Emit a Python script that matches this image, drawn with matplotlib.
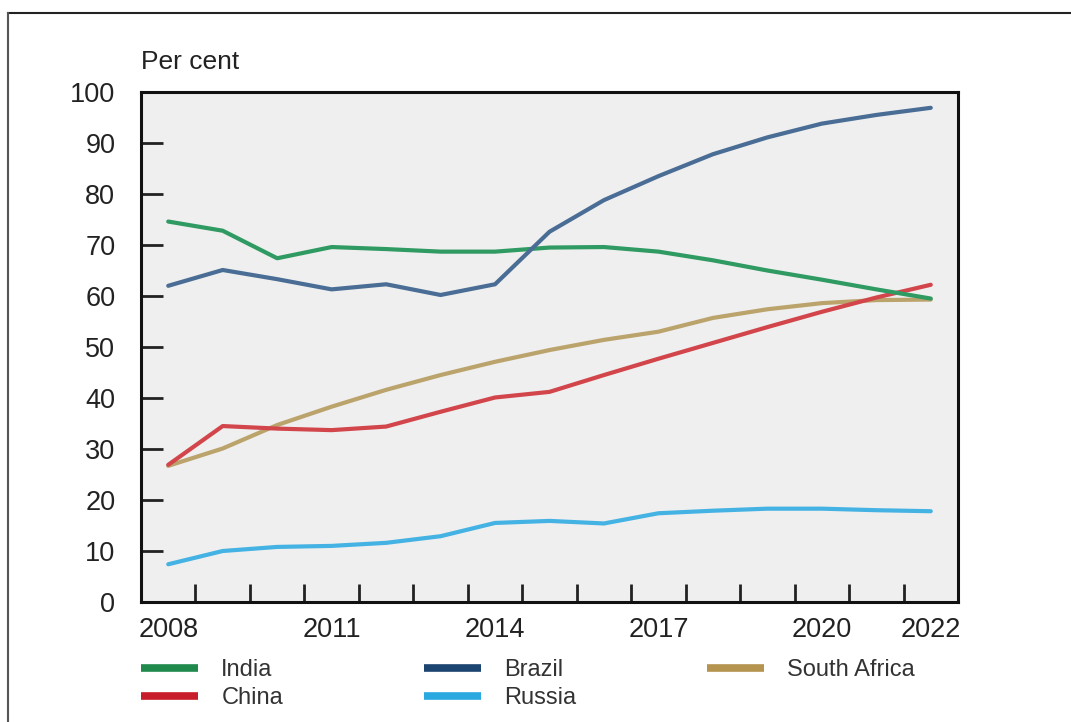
import numpy as np
import matplotlib.pyplot as plt
from matplotlib.lines import Line2D

plt.rcParams['font.family'] = ['Liberation Sans', 'DejaVu Sans']

# data
years = np.arange(2008, 2023)
india = [74.6, 72.8, 67.4, 69.6, 69.2, 68.7, 68.7, 69.5, 69.6, 68.7, 67.0, 65.0, 63.2, 61.3, 59.5]
brazil = [62.0, 65.1, 63.3, 61.3, 62.3, 60.2, 62.3, 72.6, 78.8, 83.5, 87.8, 91.1, 93.8, 95.5, 96.9]
china = [26.9, 34.5, 34.0, 33.7, 34.4, 37.3, 40.1, 41.2, 44.5, 47.7, 50.8, 53.9, 56.9, 59.7, 62.2]
south_africa = [26.7, 30.1, 34.7, 38.3, 41.6, 44.5, 47.1, 49.4, 51.4, 53.0, 55.7, 57.4, 58.6, 59.2, 59.3]
russia = [7.4, 10.0, 10.8, 11.0, 11.6, 12.9, 15.5, 15.9, 15.4, 17.4, 17.9, 18.3, 18.3, 18.0, 17.8]
label_years = [2008, 2011, 2014, 2017, 2020, 2022]

colors = {
    'India': '#2f9a62',
    'Brazil': '#4a6d96',
    'China': '#d2464b',
    'Russia': '#45b2e4',
    'South Africa': '#bba36c',
}
legend_colors = {
    'India': '#1f8a4c',
    'Brazil': '#1c4470',
    'China': '#c81e2c',
    'Russia': '#2aa8e0',
    'South Africa': '#b4944e',
}

fig = plt.figure(figsize=(10.71, 7.22), dpi=100)
W, H = 1071, 722
ax = fig.add_axes([141 / W, 1 - 602 / H, (958 - 141) / W, (602 - 92) / H])
ax.set_facecolor('#efefef')

x = years + 0.5  # points drawn in the middle of each year
ax.plot(x, south_africa, color=colors['South Africa'], lw=3, solid_capstyle='round')
ax.plot(x, china, color=colors['China'], lw=3, solid_capstyle='round')
ax.plot(x, russia, color=colors['Russia'], lw=3, solid_capstyle='round')
ax.plot(x, india, color=colors['India'], lw=3, solid_capstyle='round')
ax.plot(x, brazil, color=colors['Brazil'], lw=3, solid_capstyle='round')

ax.set_xlim(2008, 2023)
ax.set_ylim(0, 100)

for s in ax.spines.values():
    s.set_linewidth(2.2)
    s.set_color('#111111')

# year labels in the middle, tick marks at year boundaries
ax.set_xticks([y + 0.5 for y in label_years])
ax.set_xticklabels([str(y) for y in label_years])
ax.set_xticks(np.arange(2009, 2023), minor=True)
ax.tick_params(axis='x', which='major', length=0, pad=11, labelsize=19.5, labelcolor='#222222')
ax.tick_params(axis='x', which='minor', direction='in', length=13, width=2, color='#222222')

ax.set_yticks(np.arange(0, 101, 10))
ax.tick_params(axis='y', direction='in', length=16, width=2, pad=18.5, labelsize=19.5,
               labelcolor='#222222', color='#222222')

fig.text(141 / W, 1 - 62 / H, 'Per cent', fontsize=19, color='#222222', va='center', ha='left')

# legend, one block per column
columns = [(141, ['India', 'China']), (424, ['Brazil', 'Russia']), (707, ['South Africa'])]
for x0, names in columns:
    handles = [Line2D([], [], color=legend_colors[k], lw=5.5, solid_capstyle='butt') for k in names]
    fig.legend(handles, names, loc='upper left', bbox_to_anchor=(x0 / W, 1 - 659 / H),
               frameon=False, fontsize=17, handlelength=2.4, handletextpad=1.0,
               labelspacing=0.25, borderpad=0, borderaxespad=0, labelcolor='#333333')

# outer frame
fig.add_artist(Line2D([8 / W, 1], [1 - 13 / H, 1 - 13 / H], color='#222222', lw=1.5))
fig.add_artist(Line2D([8 / W, 8 / W], [0, 1 - 13 / H], color='#555555', lw=1.5))

fig.savefig('out.png', dpi=100)
